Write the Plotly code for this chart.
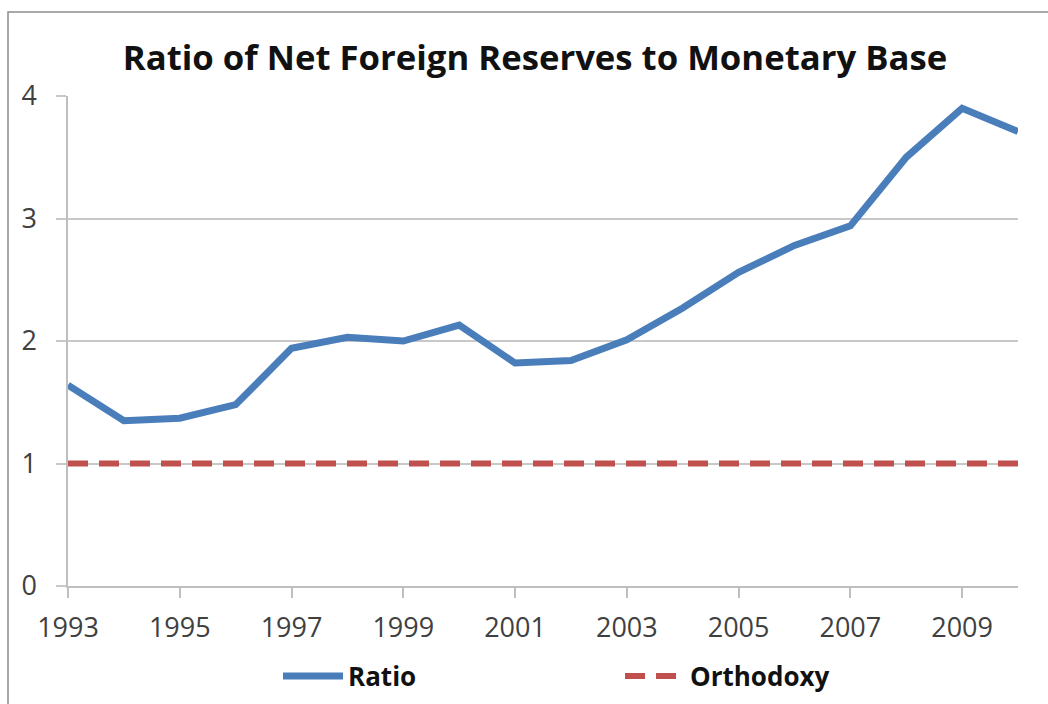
import plotly.graph_objects as go

years = list(range(1993, 2011))
ratio = [1.64, 1.35, 1.37, 1.48, 1.94, 2.03, 2.00, 2.13, 1.82, 1.84,
         2.01, 2.27, 2.56, 2.78, 2.94, 3.50, 3.90, 3.71]
orthodoxy = [1.0] * len(years)
x_ticks = list(range(1993, 2011, 2))
y_ticks = [0, 1, 2, 3, 4]

title_text = "Ratio of Net Foreign Reserves to Monetary Base"

fig = go.Figure()
fig.add_trace(go.Scatter(x=years, y=ratio, mode="lines", name="Ratio",
                         line=dict(color="#4a7ebb", width=7)))
fig.add_trace(go.Scatter(x=years, y=orthodoxy, mode="lines", name="Orthodoxy",
                         line=dict(color="#c0504d", width=6, dash="20px,11px")))

fig.update_layout(
    width=1048, height=704,
    margin=dict(l=68, r=30, t=96, b=118, autoexpand=False),
    paper_bgcolor="white", plot_bgcolor="white",
    title=dict(text=title_text, x=0.5105, xanchor="center", y=1 - 58 / 704, yanchor="middle",
               font=dict(family="Open Sans", size=34.7, color="#111111", weight="bold")),
    font=dict(family="Open Sans", color="#404040"),
    showlegend=True,
    legend=dict(orientation="h", x=(278 - 68) / 950, xanchor="left",
                y=(586 - 676) / 490, yanchor="middle",
                font=dict(family="Open Sans", size=26, color="#111111", weight="bold"),
                itemwidth=60, entrywidth=267, entrywidthmode="pixels",
                bgcolor="rgba(0,0,0,0)"),
    xaxis=dict(range=[1993, 2010], tickmode="array", tickvals=x_ticks,
               ticktext=[str(t) for t in x_ticks], showgrid=False,
               showline=True, linecolor="#bfbfbf", linewidth=1.5,
               ticks="outside", ticklen=10, tickcolor="#bfbfbf", tickwidth=1.5,
               tickfont=dict(size=27, color="#404040"), zeroline=False,
               ticklabelstandoff=7),
    yaxis=dict(range=[0, 4], tickmode="array", tickvals=y_ticks,
               showgrid=True, gridcolor="#c8c8c8", gridwidth=1.5,
               showline=True, linecolor="#bfbfbf", linewidth=1.5,
               ticks="outside", ticklen=10, tickcolor="#c8c8c8", tickwidth=1.5,
               tickfont=dict(size=27, color="#404040"), zeroline=False,
               ticklabelstandoff=14),
)

fig.add_shape(type="rect", xref="paper", yref="paper",
              x0=(8 - 68) / 950, x1=(1070 - 68) / 950,
              y0=(586 - 730) / 490, y1=(586 - 12) / 490,
              line=dict(color="#8c8c8c", width=1.5), fillcolor="rgba(0,0,0,0)",
              layer="below")

fig.write_html("out.html")
